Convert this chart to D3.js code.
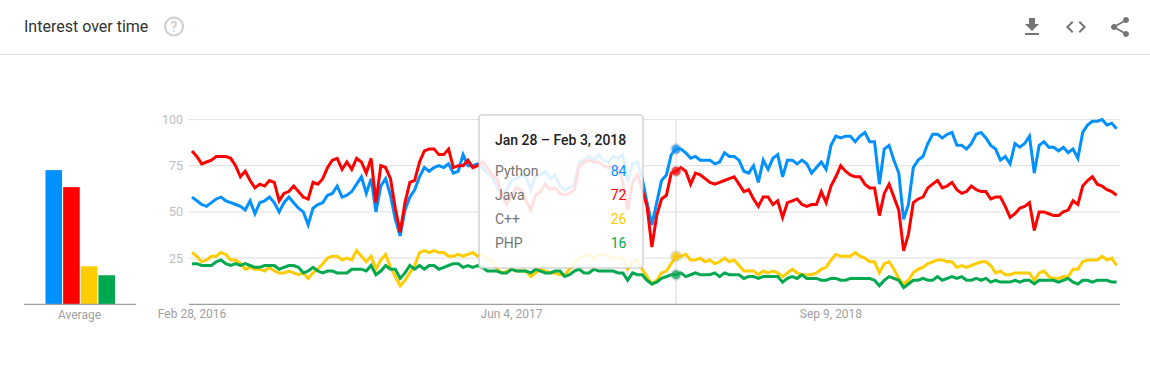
<!DOCTYPE html>
<html>
<head>
<meta charset="utf-8">
<title>Interest over time</title>
<script src="https://cdn.jsdelivr.net/npm/d3@7"></script>
<style>
    html, body { margin: 0; padding: 0; background: #fff; }
    svg { display: block; }
    text { font-family: Roboto, sans-serif; }
    .grid line { stroke: #e4e4e4; stroke-width: 1.2px; }
    .baseline { stroke: #9e9e9e; stroke-width: 1.2px; }
    .tick-label { fill: #bdbdbd; font-size: 12.5px; }
    .x-label { fill: #a0a0a0; font-size: 12px; }
    .icon { fill: #757575; }
    .series { fill: none; stroke-width: 3px; }
    .row-name { fill: #757575; font-size: 14px; }
    .row-value { font-size: 14px; text-anchor: end; }
</style>
</head>
<body>
<div id="chart"></div>
<script>
// Data, one value per week starting Feb 28, 2016
var names = ["Python", "Java", "C++", "PHP"];
var colors = ["#0090ff", "#ff0000", "#ffcc00", "#00a94f"];
var averages = [72.6, 63.4, 20.6, 15.7];

var python = [
    58, 56, 54, 53, 55, 57, 58, 56, 55, 54,
    53, 51, 56, 49, 55, 56, 58, 55, 50, 55,
    58, 55, 52, 50, 43, 52, 54, 55, 59, 60,
    64, 58, 59, 61, 65, 69, 60, 68, 50, 64,
    68, 59, 46, 37, 51, 58, 62, 69, 74, 72,
    74, 75, 74, 76, 71, 72, 81, 75, 75, 76,
    74, 71, 69, 63, 59, 62, 67, 68, 70, 69,
    62, 70, 70, 72, 68, 70, 64, 62, 63, 65,
    77, 78, 80, 78, 81, 78, 77, 80, 79, 81,
    66, 76, 77, 68, 55, 43, 55, 67, 70, 81,
    84, 84, 82, 79, 80, 78, 78, 78, 76, 77,
    82, 80, 80, 78, 72, 71, 75, 66, 78, 73,
    79, 81, 69, 78, 78, 76, 78, 76, 71, 74,
    77, 73, 86, 91, 90, 91, 91, 88, 91, 93,
    88, 88, 65, 84, 86, 78, 71, 46, 54, 74,
    78, 80, 87, 92, 92, 90, 92, 93, 86, 86,
    84, 87, 92, 93, 90, 86, 84, 78, 80, 76,
    87, 85, 87, 91, 71, 86, 88, 85, 85, 83,
    85, 82, 84, 79, 93, 97, 99, 99, 100, 97,
    98, 95
];

var java = [
    83, 80, 76, 77, 78, 80, 80, 80, 79, 75,
    69, 72, 67, 63, 65, 64, 67, 66, 56, 60,
    61, 64, 61, 58, 57, 66, 65, 68, 74, 78,
    79, 73, 77, 73, 79, 77, 71, 79, 55, 75,
    74, 68, 52, 39, 55, 66, 67, 77, 83, 84,
    84, 81, 81, 84, 74, 75, 75, 78, 74, 75,
    77, 74, 70, 68, 59, 54, 59, 63, 62, 56,
    51, 59, 61, 65, 62, 63, 60, 59, 60, 62,
    75, 77, 78, 77, 77, 75, 74, 75, 74, 66,
    51, 66, 70, 62, 53, 31, 48, 57, 59, 71,
    72, 74, 72, 65, 71, 70, 68, 66, 65, 66,
    67, 68, 69, 65, 61, 62, 57, 53, 58, 58,
    54, 56, 47, 55, 56, 57, 54, 53, 54, 54,
    61, 55, 64, 69, 75, 72, 70, 69, 69, 65,
    63, 63, 48, 60, 65, 58, 51, 29, 38, 55,
    57, 58, 63, 65, 67, 63, 64, 66, 62, 60,
    61, 64, 62, 61, 61, 57, 58, 58, 53, 47,
    49, 52, 53, 55, 40, 50, 50, 49, 48, 48,
    50, 51, 56, 54, 64, 67, 69, 65, 64, 62,
    61, 59
];

var cpp = [
    28, 26, 23, 24, 26, 26, 28, 27, 24, 24,
    22, 19, 20, 19, 19, 18, 20, 18, 17, 17,
    18, 17, 16, 17, 14, 17, 19, 22, 25, 26,
    26, 24, 25, 24, 29, 26, 23, 26, 19, 24,
    27, 20, 15, 10, 13, 17, 21, 28, 29, 28,
    29, 28, 28, 26, 26, 27, 26, 27, 28, 26,
    27, 25, 24, 19, 17, 18, 19, 18, 18, 18,
    15, 17, 19, 18, 17, 17, 16, 16, 19, 22,
    25, 26, 27, 25, 27, 27, 26, 25, 25, 25,
    19, 23, 24, 19, 15, 11, 13, 17, 18, 22,
    26, 26, 27, 24, 24, 25, 23, 24, 22, 23,
    25, 23, 24, 21, 18, 18, 18, 16, 18, 17,
    18, 17, 15, 17, 19, 17, 16, 16, 16, 17,
    19, 20, 24, 27, 26, 26, 26, 28, 26, 25,
    23, 23, 17, 22, 23, 19, 14, 11, 13, 17,
    19, 20, 22, 23, 24, 24, 23, 23, 20, 21,
    20, 21, 22, 23, 23, 21, 17, 18, 16, 16,
    17, 17, 17, 17, 13, 17, 18, 15, 14, 14,
    15, 15, 19, 19, 23, 24, 24, 24, 26, 24,
    25, 21
];

var php = [
    22, 22, 21, 21, 21, 23, 24, 22, 21, 22,
    21, 22, 21, 20, 20, 21, 21, 21, 19, 20,
    21, 21, 20, 17, 18, 20, 18, 17, 18, 18,
    17, 17, 17, 19, 19, 19, 18, 21, 16, 18,
    21, 19, 19, 14, 17, 21, 19, 21, 19, 21,
    21, 19, 20, 21, 22, 22, 20, 21, 20, 21,
    20, 18, 18, 18, 17, 17, 19, 18, 18, 18,
    17, 19, 18, 17, 17, 18, 18, 15, 16, 18,
    19, 17, 17, 19, 18, 18, 18, 18, 17, 17,
    13, 17, 16, 16, 13, 11, 12, 14, 15, 16,
    16, 17, 15, 16, 17, 16, 16, 16, 17, 15,
    17, 16, 16, 16, 14, 15, 15, 14, 15, 15,
    15, 15, 12, 14, 15, 14, 16, 14, 14, 14,
    13, 13, 14, 14, 13, 13, 14, 14, 14, 14,
    14, 13, 10, 13, 15, 14, 13, 9, 11, 13,
    13, 14, 13, 13, 15, 13, 14, 15, 14, 15,
    13, 13, 14, 13, 14, 12, 13, 12, 12, 12,
    13, 12, 13, 13, 11, 13, 13, 13, 13, 12,
    13, 14, 12, 11, 13, 13, 12, 13, 13, 13,
    12, 12
];

var yTicks = [25, 50, 75, 100];
var xTickWeeks = [0, 66, 132];
var xTickLabels = ["Feb 28, 2016", "Jun 4, 2017", "Sep 9, 2018"];

var hoverWeek = 100;
var hoverTitle = "Jan 28 \u2013 Feb 3, 2018";
var hoverValues = [84, 72, 26, 16];

var allSeries = [python, java, cpp, php];

// material icons, 24 x 24
var iconDownload = "M19 9h-4V3H9v6H5l7 7 7-7zM5 18v2h14v-2H5z";
var iconCode = "M9.4 16.6L4.8 12l4.6-4.6L8 6l-6 6 6 6 1.4-1.4zm5.2 0l4.6-4.6-4.6-4.6L16 6l6 6-6 6-1.4-1.4z";
var iconShare = "M18 16.08c-.76 0-1.44.3-1.96.77L8.91 12.7c.05-.23.09-.46.09-.7s-.04-.47-.09-.7l7.05-4.11c.54.5 1.25.81 2.04.81 1.66 0 3-1.34 3-3s-1.34-3-3-3-3 1.34-3 3c0 .24.04.47.09.7L8.04 9.81C7.5 9.31 6.79 9 6 9c-1.66 0-3 1.34-3 3s1.34 3 3 3c.79 0 1.5-.31 2.04-.81l7.12 4.16c-.05.21-.08.43-.08.65 0 1.61 1.31 2.92 2.92 2.92 1.61 0 2.92-1.31 2.92-2.92s-1.31-2.92-2.92-2.92z";

var width = 1150, height = 388;

var svg = d3.select("#chart").append("svg")
    .attr("width", width)
    .attr("height", height);

// Scales
var x = d3.scaleLinear().domain([0, 191]).range([192, 1116.6]);
var y = d3.scaleLinear().domain([0, 100]).range([304.3, 119.5]);
var xBar = d3.scaleBand().domain(names).range([45.5, 115]).paddingInner(0.06);

//======= Header ======//
svg.append("text")
    .attr("x", 24)
    .attr("y", 32)
    .attr("fill", "#333")
    .style("font-size", "16px")
    .text("Interest over time");

var help = svg.append("g").attr("transform", "translate(174,26.5)");
help.append("circle")
    .attr("r", 9)
    .attr("fill", "none")
    .attr("stroke", "#ccc")
    .attr("stroke-width", 2);
help.append("text")
    .attr("y", 5)
    .attr("text-anchor", "middle")
    .attr("fill", "#ccc")
    .style("font-size", "14px")
    .style("font-weight", 500)
    .text("?");

svg.append("path").attr("class", "icon").attr("d", iconDownload).attr("transform", "translate(1020,15)");
svg.append("path").attr("class", "icon").attr("d", iconCode).attr("transform", "translate(1064,15)");
svg.append("path").attr("class", "icon").attr("d", iconShare).attr("transform", "translate(1108,15)");

svg.append("line")
    .attr("x1", 0).attr("x2", width)
    .attr("y1", 54.5).attr("y2", 54.5)
    .attr("stroke", "#e0e0e0");

//======= Average bars ======//
svg.selectAll(".bar")
    .data(averages)
    .enter().append("rect")
    .attr("class", "bar")
    .attr("x", function(d, i) { return xBar(names[i]); })
    .attr("width", xBar.bandwidth())
    .attr("y", function(d) { return y(d); })
    .attr("height", function(d) { return y(0) - y(d); })
    .attr("fill", function(d, i) { return colors[i]; });

svg.append("line")
    .attr("class", "baseline")
    .attr("x1", 24).attr("x2", 136)
    .attr("y1", y(0)).attr("y2", y(0));

svg.append("text")
    .attr("class", "x-label")
    .attr("x", 79.5)
    .attr("y", 318.5)
    .attr("text-anchor", "middle")
    .text("Average");

//======= Line chart axes ======//
var grid = svg.append("g").attr("class", "grid");

grid.selectAll("line")
    .data(yTicks)
    .enter().append("line")
    .attr("x1", 189).attr("x2", 1120)
    .attr("y1", function(d) { return y(d); })
    .attr("y2", function(d) { return y(d); });

svg.selectAll(".tick-label")
    .data(yTicks)
    .enter().append("text")
    .attr("class", "tick-label")
    .attr("x", 183)
    .attr("y", function(d) { return y(d) + 4.5; })
    .attr("text-anchor", "end")
    .text(function(d) { return d; });

svg.append("line")
    .attr("class", "baseline")
    .attr("x1", 189).attr("x2", 1120)
    .attr("y1", y(0)).attr("y2", y(0));

svg.selectAll(".x-tick")
    .data(xTickWeeks)
    .enter().append("text")
    .attr("class", "x-tick x-label")
    .attr("x", function(d) { return x(d); })
    .attr("y", 318)
    .attr("text-anchor", "middle")
    .text(function(d, i) { return xTickLabels[i]; });

// hover line sits under the series
svg.append("line")
    .attr("x1", x(hoverWeek)).attr("x2", x(hoverWeek))
    .attr("y1", y(100)).attr("y2", y(0))
    .attr("stroke", "#dcdcdc")
    .attr("stroke-width", 1.2);

//======= Series ======//
var valueLine = d3.line()
    .x(function(d, i) { return x(i); })
    .y(function(d) { return y(d); });

svg.selectAll(".series")
    .data(allSeries)
    .enter().append("path")
    .attr("class", "series")
    .attr("d", valueLine)
    .attr("stroke", function(d, i) { return colors[i]; });

//======= Hover markers ======//
svg.selectAll(".hover-halo")
    .data(hoverValues)
    .enter().append("circle")
    .attr("class", "hover-halo")
    .attr("cx", x(hoverWeek))
    .attr("cy", function(d) { return y(d); })
    .attr("r", 6)
    .attr("fill", "#9a9a9a")
    .attr("fill-opacity", 0.3);

svg.selectAll(".hover-dot")
    .data(hoverValues)
    .enter().append("circle")
    .attr("class", "hover-dot")
    .attr("cx", x(hoverWeek))
    .attr("cy", function(d) { return y(d); })
    .attr("r", 4.5)
    .attr("fill", function(d, i) { return colors[i]; })
    .attr("fill-opacity", 0.7);

//======= Tooltip ======//
var tip = svg.append("g").attr("transform", "translate(479,115)");

tip.append("rect")
    .attr("width", 164)
    .attr("height", 153)
    .attr("rx", 2)
    .attr("fill", "#fff")
    .attr("fill-opacity", 0.88)
    .attr("stroke", "#bdbdbd");

tip.append("text")
    .attr("x", 16)
    .attr("y", 29.5)
    .attr("fill", "#222")
    .style("font-size", "14px")
    .style("font-weight", 500)
    .text(hoverTitle);

var row = tip.selectAll(".row")
    .data(names)
    .enter().append("g")
    .attr("class", "row")
    .attr("transform", function(d, i) { return "translate(0," + (61 + i * 24) + ")"; });

row.append("text")
    .attr("class", "row-name")
    .attr("x", 16)
    .text(function(d) { return d; });

row.append("text")
    .attr("class", "row-value")
    .attr("x", 147.5)
    .attr("fill", function(d, i) { return colors[i]; })
    .text(function(d, i) { return hoverValues[i]; });
</script>
</body>
</html>
